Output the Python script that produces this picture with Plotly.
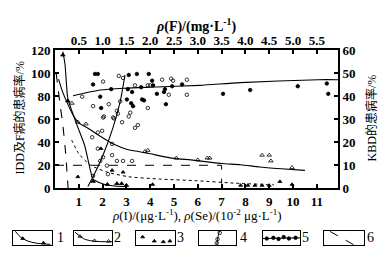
import plotly.graph_objects as go

# ---------------- data ----------------
# bottom axis: rho(I) / rho(Se) ; top axis: rho(F) ; left axis: IDD & F disease prevalence %
# curve 1 (solid, filled triangles)
c1_x = [0.33, 0.42, 0.54, 0.75, 0.96, 1.25, 1.46, 1.6, 2.0, 2.5, 3.0]
c1_y = [119, 108, 78, 65, 53, 37, 18, 8, 4, 2, 1.5]
c1_pts_x = [0.33, 0.54, 1.6, 2.2, 2.6, 2.8, 3.0]
c1_pts_y = [116, 76, 6, 3.3, 4, 4, 2.5]

# curve 2 (solid, triangles)
c2_x = [0.15, 0.3, 0.5, 0.75, 1.0, 1.4, 2.0, 2.5, 3.0, 3.5, 4.0, 5.0, 5.7, 6.4, 7.0, 7.8, 8.6, 9.5, 10.5]
c2_y = [95, 85, 75, 64, 57, 52, 44, 38, 34, 32, 30, 26, 24.7, 23, 21.5, 20.5, 18.5, 17, 15.6]
c2_pts_x = [0.71, 0.96, 1.3, 3.78, 3.9, 5.1, 6.0, 6.4, 6.5, 8.7, 9.0, 9.07, 9.96]
c2_pts_y = [74, 57.5, 56, 32, 33, 26.3, 24.7, 26.3, 26.3, 28.8, 28.8, 23.8, 18]

# curve 3 (dotted, small dots / triangles)
c3_x = [0.7, 1.0, 1.5, 2.2, 3.1, 4.4, 6.0, 7.5, 9.2]
c3_y = [42, 30, 20, 14, 10, 8, 6.5, 4.5, 3]
c3_pts_x = [0.96, 1.93, 2.4, 2.86, 4.1, 7.8, 8.1, 8.4, 8.7, 9.0, 9.45, 9.96]
c3_pts_y = [10, 34.5, 15.6, 14, 3.3, 2.5, 2.5, 2.5, 2.5, 2.5, 5.8, 3.3]

# curve 4 (rho(F), steep rise, open circles)
c4_x = [0.69, 0.80, 1.01, 1.22, 1.37, 1.47]
c4_y = [1.6, 10, 29, 53, 75.6, 98.6]
c4_pts_x = [0.8, 0.95, 1.01, 1.09, 1.11, 1.2, 1.2, 0.9, 1.3, 1.43, 1.62, 0.99, 0.9, 0.78,
            1.03, 1.22, 1.3, 1.32, 1.41, 1.55, 1.68, 1.74, 1.37, 1.43, 1.34]
c4_pts_y = [10.7, 23.8, 27, 19.7, 12.3, 28.8, 38.6, 34.5, 23.8, 23.8, 23.8, 50, 48.5, 44.4,
            62.5, 61.6, 67.4, 65, 57.5, 62.5, 52.6, 55, 75.6, 96, 97.8]

# curve 5 (rho(F), near-flat line with dots)
c5_x = [0.38, 0.95, 1.47, 2.0, 3.05, 3.89, 5.53, 5.95]
c5_y = [80.5, 85.5, 87.1, 88, 89.6, 92, 94.5, 94.5]
c5_fill_x = [0.84, 0.90, 0.80, 1.18, 1.55, 1.72, 1.53, 1.62, 1.81, 0.95, 0.97, 1.51, 1.6, 1.64,
             1.97, 2.04, 2.06, 2.67, 2.46, 2.31, 1.83, 1.87, 2.14, 2.29, 3.53, 2.33, 4.1, 5.1, 5.71, 5.74]
c5_fill_y = [99.5, 99.5, 90.4, 86.3, 98.6, 99.5, 86.3, 83.8, 88, 79.7, 69.9, 77.3, 74, 71.5,
             99.5, 93.7, 89.6, 90.4, 88.8, 86.3, 77.3, 76.5, 82.2, 83.8, 82.2, 73.2, 85.5, 88.8, 91.2, 82.2]
c5_open_x = [1.01, 1.68, 1.95, 0.57, 0.80, 1.13, 2.25, 2.44, 2.48, 2.77, 2.0, 2.39, 2.77, 1.95, 1.01, 1.24, 1.58]
c5_open_y = [92.9, 89.6, 89.6, 79.7, 71.5, 73.2, 94.5, 95.4, 93.7, 94.5, 89.6, 81.4, 81.4, 69.9, 61.6, 60.8, 65.8]

# curve 6 (dashed) and the dashed 20 % reference line
c6_x = [0.05, 0.2, 0.33, 0.45, 0.55]
c6_y = [100, 75, 55, 30, 0]
ref_x = [0, 7, 7]
ref_y = [20, 20, 4]

# ticks
bottom_ticks = [1, 2, 3, 4, 5, 6, 7, 8, 9, 10, 11]
top_ticks = [0.5, 1.0, 1.5, 2.0, 2.5, 3.0, 3.5, 4.0, 4.5, 5.0, 5.5]
left_ticks = [0, 20, 40, 60, 80, 100, 120]
right_ticks = [0, 10, 20, 30, 40, 50, 60]

# legend sample icons (normalised in each small box)
leg1_x = [0.06, 0.19, 0.36, 0.62, 0.96]; leg1_y = [0.96, 0.56, 0.29, 0.11, 0.04]
leg1_mx = [0.25, 0.78]; leg1_my = [0.45, 0.14]
leg2_x = [0.03, 0.25, 0.51, 1.0]; leg2_y = [0.89, 0.44, 0.27, 0.22]
leg2_mx = [0.16, 0.54, 0.91]; leg2_my = [0.6, 0.3, 0.26]
leg3_mx = [0.17, 0.47, 0.7, 0.87]; leg3_my = [0.56, 0.27, 0.22, 0.27]
leg4_x = [0.55, 0.52, 0.5, 0.48]; leg4_y = [0.98, 0.65, 0.35, 0.02]
leg4_mx = [0.56, 0.5, 0.48]; leg4_my = [0.85, 0.4, 0.12]
leg5_x = [0.0, 1.0]; leg5_y = [0.45, 0.5]
leg5_mx = [0.1, 0.28, 0.42, 0.56, 0.7, 0.88]
leg5_my = [0.45, 0.5, 0.42, 0.55, 0.45, 0.5]
leg6_x = [0.15, 0.75]; leg6_y = [0.95, 0.0]
leg_labels = ["1", "2", "3", "4", "5", "6"]

# ---------------- figure ----------------
W, H = 386, 268
def px(x): return x / W
def py(y): return 1 - y / H

SERIF = "Liberation Serif, Times New Roman, serif"
CJK = "Liberation Serif, Noto Sans CJK SC, serif"
K = "black"

fig = go.Figure()

def line(x, y, xa="x", ya="y", dash="solid", w=1.1):
    fig.add_trace(go.Scatter(x=x, y=y, mode="lines", xaxis=xa, yaxis=ya,
                             line=dict(color=K, width=w, dash=dash, shape="spline", smoothing=0.6),
                             showlegend=False, hoverinfo="skip"))

def pts(x, y, sym, size=3.5, xa="x", ya="y"):
    fig.add_trace(go.Scatter(x=x, y=y, mode="markers", xaxis=xa, yaxis=ya,
                             marker=dict(symbol=sym, size=size, color=K,
                                         line=dict(color=K, width=0.8)),
                             showlegend=False, hoverinfo="skip"))

line(c1_x, c1_y); pts(c1_pts_x, c1_pts_y, "triangle-up", 4)
line(c2_x, c2_y); pts(c2_pts_x, c2_pts_y, "triangle-up-open", 4)
line(c3_x, c3_y, dash="dot", w=1.0); pts(c3_pts_x, c3_pts_y, "triangle-up", 3.5)
line(c4_x, c4_y, xa="x2"); pts(c4_pts_x, c4_pts_y, "circle-open", 3.5, xa="x2")
line(c5_x, c5_y, xa="x2"); pts(c5_fill_x, c5_fill_y, "circle", 3.5, xa="x2")
pts(c5_open_x, c5_open_y, "circle-open", 3.5, xa="x2")
line(c6_x, c6_y, dash="dash", w=1.1)
fig.add_trace(go.Scatter(x=ref_x, y=ref_y, mode="lines", xaxis="x", yaxis="y",
                         line=dict(color=K, width=1.0, dash="dash"),
                         showlegend=False, hoverinfo="skip"))
# empty trace so the right-hand axis is drawn
fig.add_trace(go.Scatter(x=[None], y=[None], xaxis="x", yaxis="y2", mode="markers",
                         showlegend=False, hoverinfo="skip"))

# legend boxes
boxes = [(13, 52), (74, 112), (136, 175), (199, 236), (263, 300), (324, 364)]
num_x = [60, 117, 180, 243, 305, 370]
leg_data = [
    ([(leg1_x, leg1_y, "solid")], [(leg1_mx, leg1_my, "triangle-up")]),
    ([(leg2_x, leg2_y, "solid")], [(leg2_mx, leg2_my, "triangle-up-open")]),
    ([], [(leg3_mx, leg3_my, "triangle-up")]),
    ([(leg4_x, leg4_y, "solid")], [(leg4_mx, leg4_my, "circle-open")]),
    ([(leg5_x, leg5_y, "solid")], [(leg5_mx, leg5_my, "circle")]),
    ([(leg6_x, leg6_y, "dash")], []),
]
layout_extra = {}
for i, ((x0, x1), (lines_, marks)) in enumerate(zip(boxes, leg_data)):
    n = i + 3
    xa, ya = f"x{n}", f"y{n}"
    for lx, ly, d in lines_:
        fig.add_trace(go.Scatter(x=lx, y=ly, mode="lines", xaxis=xa, yaxis=ya,
                                 line=dict(color=K, width=1.0, dash=d, shape="spline"),
                                 showlegend=False, hoverinfo="skip"))
    for mx, my, s in marks:
        fig.add_trace(go.Scatter(x=mx, y=my, mode="markers", xaxis=xa, yaxis=ya,
                                 marker=dict(symbol=s, size=3.5, color=K, line=dict(color=K, width=0.8)),
                                 showlegend=False, hoverinfo="skip"))
    common = dict(range=[0, 1], showline=True, mirror=True, linecolor=K, linewidth=1.2,
                  showticklabels=False, ticks="", showgrid=False, zeroline=False, fixedrange=True)
    layout_extra[f"xaxis{n}"] = dict(domain=[px(x0), px(x1)], anchor=ya, **common)
    layout_extra[f"yaxis{n}"] = dict(domain=[py(252), py(237)], anchor=xa, **common)

annotations = [
    dict(text="IDD及F病的患病率/%", x=px(19), y=py(118), textangle=-90,
         font=dict(family=CJK, size=12, color=K)),
    dict(text="KBD的患病率/%", x=px(371), y=py(118), textangle=-90,
         font=dict(family=CJK, size=12, color=K)),
    dict(text="<i>ρ</i>(F)/(mg·L<sup>-1</sup>)", x=px(196), y=py(20),
         font=dict(family=SERIF, size=14, color=K, weight="bold")),
    dict(text="<i>ρ</i>(I)/(μg·L<sup>-1</sup>), <i>ρ</i>(Se)/(10<sup>-2</sup> μg·L<sup>-1</sup>)",
         x=px(197), y=py(220), font=dict(family=SERIF, size=13, color=K)),
]
for lab, nx in zip(leg_labels, num_x):
    annotations.append(dict(text=lab, x=px(nx), y=py(244),
                            font=dict(family=SERIF, size=14, color=K)))
for a in annotations:
    a.update(xref="paper", yref="paper", showarrow=False, xanchor="center", yanchor="middle")

XD = [px(55), px(338)]
YD = [py(192), py(46)]
tickfont = dict(family=SERIF, size=13, color=K, weight="bold")
axcommon = dict(showline=True, linecolor=K, linewidth=2, ticks="inside", ticklen=4,
                tickwidth=1.5, tickcolor=K, showgrid=False, zeroline=False, tickfont=tickfont)

fig.update_layout(
    width=W, height=H, margin=dict(l=0, r=0, t=0, b=0),
    paper_bgcolor="white", plot_bgcolor="white", showlegend=False,
    xaxis=dict(domain=XD, range=[0, 11.89], tickvals=bottom_ticks, anchor="y", **axcommon),
    xaxis2=dict(domain=XD, range=[0, 5.945], tickvals=top_ticks, ticktext=[f"{v:.1f}" for v in top_ticks],
                overlaying="x", side="top", anchor="y", ticklabelstandoff=-2, **axcommon),
    yaxis=dict(domain=YD, range=[0, 120], tickvals=left_ticks, anchor="x", **axcommon),
    yaxis2=dict(domain=YD, range=[0, 60], tickvals=right_ticks, overlaying="y", side="right",
                anchor="x", **axcommon),
    annotations=annotations,
    **layout_extra,
)

fig.write_html("out.html", config={"displayModeBar": False},
               post_script="document.body.style.margin='0';")
